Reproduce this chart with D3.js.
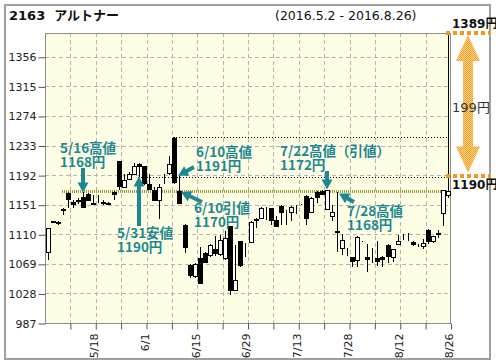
<!DOCTYPE html>
<html><head><meta charset="utf-8">
<script src="https://cdn.jsdelivr.net/npm/d3@7"></script>
<style>
body{margin:0;background:#fff}
svg{display:block;font-family:"DejaVu Sans","Noto Sans CJK JP",sans-serif}
</style></head><body>
<svg width="496" height="364"></svg>
<script>
// trading days 2016.5.2 - 2016.8.26
var dates = ["5/2","5/6","5/9","5/10","5/11","5/12","5/13","5/16","5/17","5/18",
  "5/19","5/20","5/23","5/24","5/25","5/26","5/27","5/30","5/31","6/1",
  "6/2","6/3","6/6","6/7","6/8","6/9","6/10","6/13","6/14","6/15",
  "6/16","6/17","6/20","6/21","6/22","6/23","6/24","6/27","6/28","6/29",
  "6/30","7/1","7/4","7/5","7/6","7/7","7/8","7/11","7/12","7/13",
  "7/14","7/15","7/19","7/20","7/21","7/22","7/25","7/26","7/27","7/28",
  "7/29","8/1","8/2","8/3","8/4","8/5","8/8","8/9","8/10","8/12",
  "8/15","8/16","8/17","8/18","8/19","8/22","8/23","8/24","8/25","8/26"];
var open  = [1085,1127,1127,1145,1167,1155,1158,1161,1166,1152,
  1156,1155,1153,1169,1211,1176,1187,1193,1207,1204,
  1179,1172,1158,1192,1195,1244,1170,1123,1068,1052,
  1077,1084,1081,1090,1082,1077,1121,1033,1100,1097,
  1099,1131,1132,1147,1146,1130,1149,1142,1141,1150,
  1151,1163,1141,1169,1170,1145,1136,1115,1091,1090,
  1078,1075,1099,1078,1090,1077,1078,1095,1079,1097,
  1109,1110,1099,1095,1094,1116,1100,1112,1140,1165];
var high  = [1119,1129,1128,1146,1168,1158,1160,1168,1167,1164,
  1165,1158,1155,1170,1212,1194,1197,1209,1209,1205,
  1193,1175,1180,1193,1218,1245,1191,1124,1069,1070,
  1093,1085,1097,1108,1109,1114,1122,1095,1101,1098,
  1128,1132,1148,1148,1147,1136,1150,1143,1149,1151,
  1152,1164,1161,1170,1171,1172,1151,1169,1111,1091,
  1079,1107,1100,1097,1091,1100,1080,1096,1089,1109,
  1110,1112,1100,1096,1104,1117,1108,1116,1172,1389];
var low   = [1075,1125,1123,1137,1146,1146,1152,1148,1157,1151,
  1153,1151,1150,1158,1172,1175,1186,1192,1190,1178,
  1173,1156,1131,1180,1192,1180,1152,1084,1050,1050,
  1041,1071,1079,1080,1080,1075,1026,1032,1065,1079,
  1098,1119,1131,1130,1123,1120,1123,1123,1128,1138,
  1150,1123,1140,1153,1165,1144,1128,1086,1081,1080,
  1065,1065,1099,1058,1070,1066,1065,1070,1071,1096,
  1102,1100,1094,1092,1090,1096,1098,1105,1122,1160];
var close = [1118,1128,1126,1143,1159,1152,1156,1148,1158,1154,
  1156,1153,1152,1166,1177,1185,1194,1204,1205,1181,
  1173,1158,1176,1192,1208,1182,1153,1093,1053,1069,
  1042,1072,1095,1084,1102,1105,1033,1047,1068,1097,
  1127,1130,1147,1147,1130,1122,1141,1142,1148,1150,
  1151,1132,1160,1162,1166,1172,1141,1113,1102,1089,
  1073,1106,1099,1076,1090,1073,1076,1080,1089,1101,
  1109,1111,1096,1095,1098,1100,1108,1110,1171,1170];
var yTicks = [987,1028,1069,1110,1151,1192,1233,1274,1315,1356];
var xLabels = ["5/18","6/1","6/15","6/29","7/13","7/28","8/12","8/26"];

// resistance lines
var levels = [
  {from: "5/10", price: 1170, kind: "olive"},
  {from: "5/31", price: 1190, kind: "black"},
  {from: "6/9",  price: 1245, kind: "black"}
];
var target = {base: 1190, top: 1389};

var svg = d3.select("svg");
var L = 45, R = 451, T = 33, B = 323;

var x = d3.scaleBand().domain(dates).range([L, R]);
var y = d3.scaleLinear().domain([987, 1389]).range([B, T]);
var bw = x.bandwidth();
function cx(d) { return Math.round(x(d) + bw / 2); }

// outer frame
svg.append("rect").attr("x", 5).attr("y", 5).attr("width", 485).attr("height", 354)
  .attr("fill", "#fff").attr("stroke", "#a0a0a0").attr("stroke-width", 2);

var defs = svg.append("defs");

// plot background
svg.append("rect").attr("x", L).attr("y", T).attr("width", R - L).attr("height", B - T)
  .attr("fill", "#fefee4");

// grid
var tickDates = dates.filter(function (d, i) { return i % 5 === 4; });
var grid = svg.append("g").attr("stroke", "#b4b4b4").attr("stroke-dasharray", "4,3");
grid.selectAll(".gy").data(yTicks.slice(1)).enter().append("line")
  .attr("x1", L).attr("x2", R)
  .attr("y1", function (d) { return Math.round(y(d)) + 0.5; })
  .attr("y2", function (d) { return Math.round(y(d)) + 0.5; });
grid.selectAll(".gx").data(tickDates.slice(0, -1)).enter().append("line")
  .attr("y1", T).attr("y2", B)
  .attr("x1", function (d) { return Math.round(x(d) + bw) + 0.5; })
  .attr("x2", function (d) { return Math.round(x(d) + bw) + 0.5; });

// plot border
svg.append("rect").attr("x", L + 0.5).attr("y", T + 0.5).attr("width", R - L - 1).attr("height", B - T)
  .attr("fill", "none").attr("stroke", "#8c8c8c");

// axes
var yAxis = d3.axisLeft(y).tickValues(yTicks).tickSize(7).tickPadding(2).tickFormat(d3.format("d"));
var gy = svg.append("g").attr("transform", "translate(" + (L + 0.5) + ",0.5)").call(yAxis);
gy.select(".domain").remove();
gy.selectAll("line").attr("stroke", "#555");
gy.selectAll("text").attr("font-size", 11).attr("font-family", "DejaVu Sans").attr("fill", "#222");

var xAxis = d3.axisBottom(x).tickValues(tickDates).tickSize(6).tickPadding(4)
  .tickFormat(function (d) { return xLabels.indexOf(d) >= 0 ? d : ""; });
var gx = svg.append("g").attr("transform", "translate(" + (bw / 2 + 0.5) + "," + (B + 0.5) + ")").call(xAxis);
gx.select(".domain").remove();
gx.selectAll("line").attr("stroke", "#555");
gx.selectAll("text").attr("font-size", 11).attr("font-family", "DejaVu Sans").attr("fill", "#222")
  .attr("transform", "rotate(-90)").attr("text-anchor", "end")
  .attr("x", -10).attr("y", -2).attr("dy", "0.35em");

// resistance lines
svg.selectAll(".lvl").data(levels).enter().append("line")
  .attr("x1", function (d) { return cx(d.from) - 1; })
  .attr("x2", R - 4)
  .attr("y1", function (d) { return Math.round(y(d.price)) + 0.5; })
  .attr("y2", function (d) { return Math.round(y(d.price)) + 0.5; })
  .attr("stroke", function (d) { return d.kind === "olive" ? "#9c9a3a" : "#000"; })
  .attr("stroke-width", function (d) { return d.kind === "olive" ? 3 : 1; })
  .attr("stroke-dasharray", function (d) { return d.kind === "olive" ? "1,1" : "1,2"; });

// candles
var candles = dates.map(function (d, i) {
  return {date: d, o: open[i], h: high[i], l: low[i], c: close[i]};
});
var cg = svg.append("g");
cg.selectAll(".wick").data(candles).enter().append("line")
  .attr("x1", function (d) { return cx(d.date) + 0.5; })
  .attr("x2", function (d) { return cx(d.date) + 0.5; })
  .attr("y1", function (d) { return Math.round(y(d.h)); })
  .attr("y2", function (d) { return Math.round(y(d.l)); })
  .attr("stroke", "#000");
cg.selectAll(".body").data(candles).enter().append("rect")
  .attr("x", function (d) { return cx(d.date) - 1.5; })
  .attr("y", function (d) { return Math.round(y(Math.max(d.o, d.c))) + 0.5; })
  .attr("width", 4)
  .attr("height", function (d) { return Math.max(0, Math.round(y(Math.min(d.o, d.c))) - Math.round(y(Math.max(d.o, d.c)))); })
  .attr("fill", function (d) { return d.c >= d.o ? "#fff" : "#000"; })
  .attr("stroke", "#000");

// annotations (teal)
var teal = "#1b8893";
function arrow(x1, y1, x2, y2, sw, hw, hl) {
  var dx = x2 - x1, dy = y2 - y1, len = Math.sqrt(dx * dx + dy * dy);
  var ux = dx / len, uy = dy / len, px = -uy, py = ux;
  var bx = x2 - ux * hl, by = y2 - uy * hl;
  var pts = [
    [x1 + px * sw / 2, y1 + py * sw / 2], [bx + px * sw / 2, by + py * sw / 2],
    [bx + px * hw / 2, by + py * hw / 2], [x2, y2],
    [bx - px * hw / 2, by - py * hw / 2], [bx - px * sw / 2, by - py * sw / 2],
    [x1 - px * sw / 2, y1 - py * sw / 2]];
  return "M" + pts.map(function (p) { return p[0] + "," + p[1]; }).join("L") + "Z";
}

var notes = [
  {lines: ["5/16高値", "1168円"], tx: 60, ty: 153, a: [cx("5/16"), 168, cx("5/16"), y(1168)]},
  {lines: ["5/31安値", "1190円"], tx: 117, ty: 238, a: [cx("5/31"), 226, cx("5/31"), y(1190)]},
  {lines: ["6/10高値", "1191円"], tx: 196, ty: 157, a: [194, 167, cx("6/10") - 1, y(1191)]},
  {lines: ["6/10引値", "1170円"], tx: 194, ty: 213, a: [202, 202, cx("6/10") + 2, y(1170) + 1]},
  {lines: ["7/22高値（引値）", "1172円"], tx: 280, ty: 156, a: [cx("7/22"), 171, cx("7/22"), y(1172)]},
  {lines: ["7/28高値", "1168円"], tx: 347, ty: 216, a: [354, 202, 339, y(1168) + 1]}
];
var ng = svg.append("g");
notes.forEach(function (n) {
  ng.append("path").attr("d", arrow(n.a[0], n.a[1], n.a[2], n.a[3], 4, 11, 10)).attr("fill", teal);
  var t = ng.append("text").attr("fill", teal)
    .attr("font-family", "Noto Sans CJK JP").attr("font-weight", "bold").attr("font-size", 13.5);
  t.append("tspan").attr("x", n.tx).attr("y", n.ty).text(n.lines[0]);
  t.append("tspan").attr("x", n.tx).attr("y", n.ty + 14).text(n.lines[1]);
});

// target annotation (orange)
var orange = "#f39a14";
var tx0 = 446, tx1 = 491, axc = 468;
[target.top, target.base].forEach(function (p) {
  var yy = Math.round(y(p)) - (p === target.base ? 1 : 0);
  svg.append("line").attr("x1", tx0).attr("x2", tx1).attr("y1", yy).attr("y2", yy)
    .attr("stroke", orange).attr("stroke-width", 4).attr("stroke-dasharray", "4,3");
});
var opat = defs.append("pattern").attr("id", "odither").attr("width", 2).attr("height", 2)
  .attr("patternUnits", "userSpaceOnUse");
opat.append("rect").attr("width", 2).attr("height", 2).attr("fill", "#fbd08a");
opat.append("rect").attr("width", 1).attr("height", 1).attr("fill", "#f5a020");
opat.append("rect").attr("x", 1).attr("y", 1).attr("width", 1).attr("height", 1).attr("fill", "#f5a020");
var ya = y(target.top) + 2, yb = y(target.base) - 4, mid = (ya + yb) / 2;
svg.append("path").attr("d", arrow(axc, mid, axc, ya, 10, 24, 26) + arrow(axc, mid, axc, yb, 10, 24, 26))
  .attr("fill", "url(#odither)");
svg.append("text").attr("x", 471).attr("y", 112).attr("text-anchor", "middle")
  .attr("font-size", 13).attr("fill", "#333").text((target.top - target.base) + "円");
svg.append("text").attr("x", 452).attr("y", 28).attr("font-size", 12).attr("font-weight", "bold")
  .attr("fill", "#111").text(target.top + "円");
svg.append("text").attr("x", 452).attr("y", 189).attr("font-size", 12).attr("font-weight", "bold")
  .attr("fill", "#111").text(target.base + "円");

// title
svg.append("text").attr("x", 9).attr("y", 20).attr("font-size", 13).attr("font-weight", "bold")
  .attr("fill", "#111").attr("xml:space", "preserve").text("2163  アルトナー");
svg.append("text").attr("x", 275).attr("y", 20).attr("font-size", 12.5)
  .attr("fill", "#111").text("(2016.5.2 - 2016.8.26)");
</script>
</body></html>
